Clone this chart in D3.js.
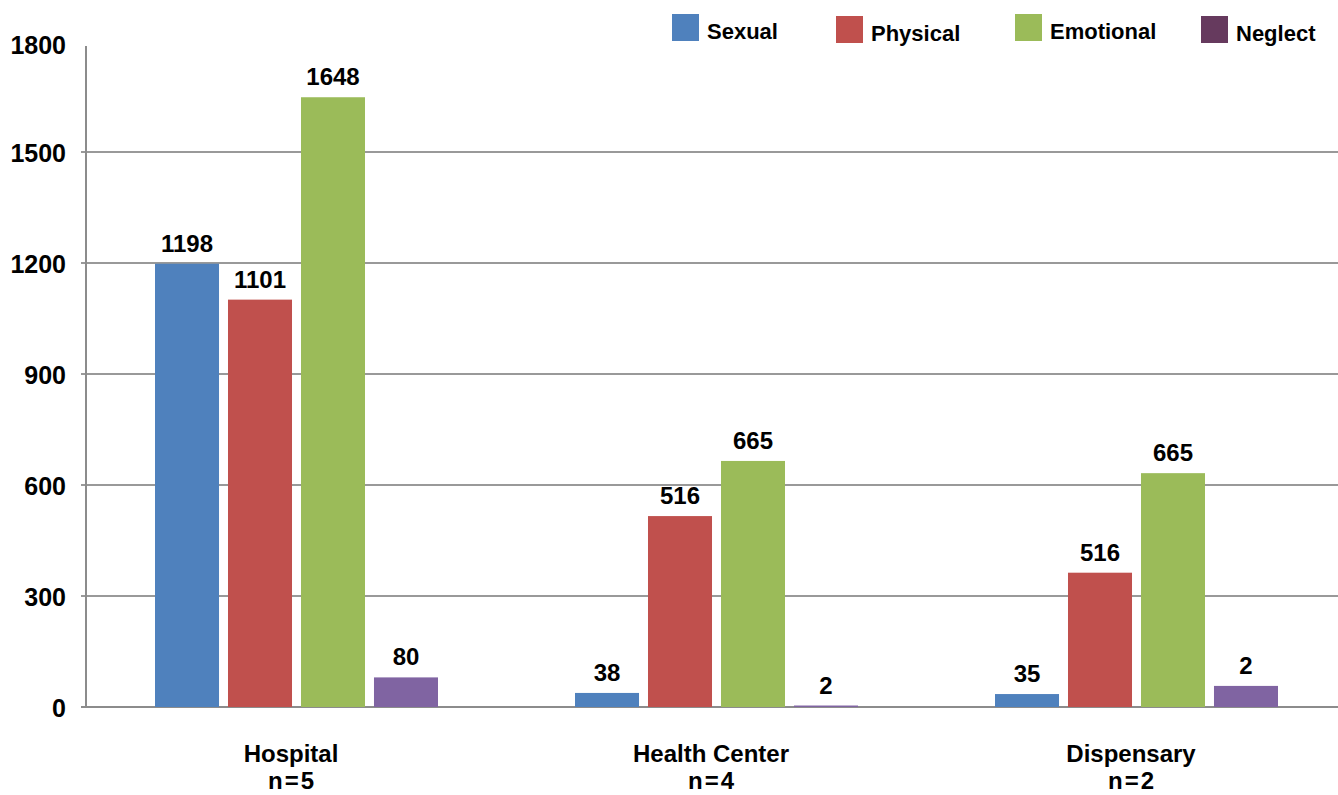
<!DOCTYPE html>
<html>
<head>
<meta charset="utf-8">
<script src="https://cdn.jsdelivr.net/npm/d3@7/dist/d3.min.js"></script>
<style>
  html, body { margin: 0; padding: 0; background: #fff; }
  svg { display: block; font-family: "Liberation Sans", Arial, sans-serif; font-weight: bold; }
</style>
</head>
<body>
<svg id="chart" width="1338" height="795"></svg>
<script>
// ---- data ----
const categories = ["Hospital", "Health Center", "Dispensary"];
const categorySub = ["n=5", "n=4", "n=2"];
const series = ["Sexual", "Physical", "Emotional", "Neglect"];
// bar heights as drawn
const sexual    = [1198, 38, 35];
const physical  = [1101, 516, 363];
const emotional = [1648, 665, 632];
const neglect   = [80, 4, 57];
// printed data labels
const sexualLabels    = ["1198", "38", "35"];
const physicalLabels  = ["1101", "516", "516"];
const emotionalLabels = ["1648", "665", "665"];
const neglectLabels   = ["80", "2", "2"];
const yTicks = [0, 300, 600, 900, 1200, 1500, 1800];

const barColors = ["#4F81BD", "#C0504D", "#9BBB59", "#8064A2"];
const legendColors = ["#4F81BD", "#C0504D", "#9BBB59", "#663A5E"];

const values = [sexual, physical, emotional, neglect];
const labels = [sexualLabels, physicalLabels, emotionalLabels, neglectLabels];

// ---- layout ----
const svg = d3.select("#chart");
const axisX = 86, plotRight = 1346, baseY = 707, topY = 41;

const y = d3.scaleLinear().domain([0, 1800]).range([baseY, topY]);
const x0 = d3.scaleBand().domain(categories).range([axisX, plotRight]).padding(0);
const x1 = d3.scaleBand().domain(series).range([69, 352]).paddingInner(0.123).paddingOuter(0);

// gridlines (except top)
svg.append("g").selectAll("line").data(yTicks.filter(t => t > 0 && t < 1800)).join("line")
  .attr("x1", axisX - 5).attr("x2", 1338)
  .attr("y1", d => y(d)).attr("y2", d => y(d))
  .attr("stroke", "#999").attr("stroke-width", 2);

// y tick labels
svg.append("g").selectAll("text").data(yTicks).join("text")
  .attr("x", 66).attr("y", d => y(d) + (d === 1800 ? 6 : 3))
  .attr("text-anchor", "end").attr("dominant-baseline", "middle")
  .attr("font-size", 25).attr("fill", "#000")
  .text(d => d);

// baseline & y axis line
svg.append("line").attr("x1", axisX - 5).attr("x2", 1338).attr("y1", baseY).attr("y2", baseY)
  .attr("stroke", "#8c8c8c").attr("stroke-width", 2);
svg.append("line").attr("x1", axisX).attr("x2", axisX).attr("y1", y(1800) + 5).attr("y2", baseY)
  .attr("stroke", "#8c8c8c").attr("stroke-width", 2);

// bars
const rows = [];
series.forEach((s, si) => categories.forEach((c, ci) => {
  rows.push({ s, c, si, v: values[si][ci], label: labels[si][ci] });
}));

svg.append("g").selectAll("rect").data(rows).join("rect")
  .attr("x", d => x0(d.c) + x1(d.s))
  .attr("width", x1.bandwidth())
  .attr("y", d => y(d.v))
  .attr("height", d => baseY - y(d.v))
  .attr("fill", d => barColors[d.si]);

// data labels
svg.append("g").selectAll("text").data(rows).join("text")
  .attr("x", d => x0(d.c) + x1(d.s) + x1.bandwidth() / 2)
  .attr("y", d => y(d.v) - 12)
  .attr("text-anchor", "middle")
  .attr("font-size", 24).attr("fill", "#000")
  .text(d => d.label);

// category labels
const catG = svg.append("g").selectAll("g").data(categories).join("g");
catG.append("text")
  .attr("x", (d) => x0(d) + x0.bandwidth() / 2 - 5)
  .attr("y", 762).attr("text-anchor", "middle")
  .attr("font-size", 24).attr("fill", "#000").text(d => d);
catG.append("text")
  .attr("x", (d) => x0(d) + x0.bandwidth() / 2 - 4)
  .attr("y", 789).attr("text-anchor", "middle")
  .attr("letter-spacing", 2)
  .attr("font-size", 24).attr("fill", "#000").text((d, i) => categorySub[i]);

// legend
const legendX = [672, 836, 1015, 1201];
const legendDY = [0, 2, 0, 2];
const lg = svg.append("g").selectAll("g").data(series).join("g")
  .attr("transform", (d, i) => `translate(${legendX[i]},${14 + legendDY[i]})`);
lg.append("rect").attr("width", 27).attr("height", 27).attr("fill", (d, i) => legendColors[i]);
lg.append("text").attr("x", 35).attr("y", 25)
  .attr("font-size", 22).attr("fill", "#000").text(d => d);
</script>
</body>
</html>
